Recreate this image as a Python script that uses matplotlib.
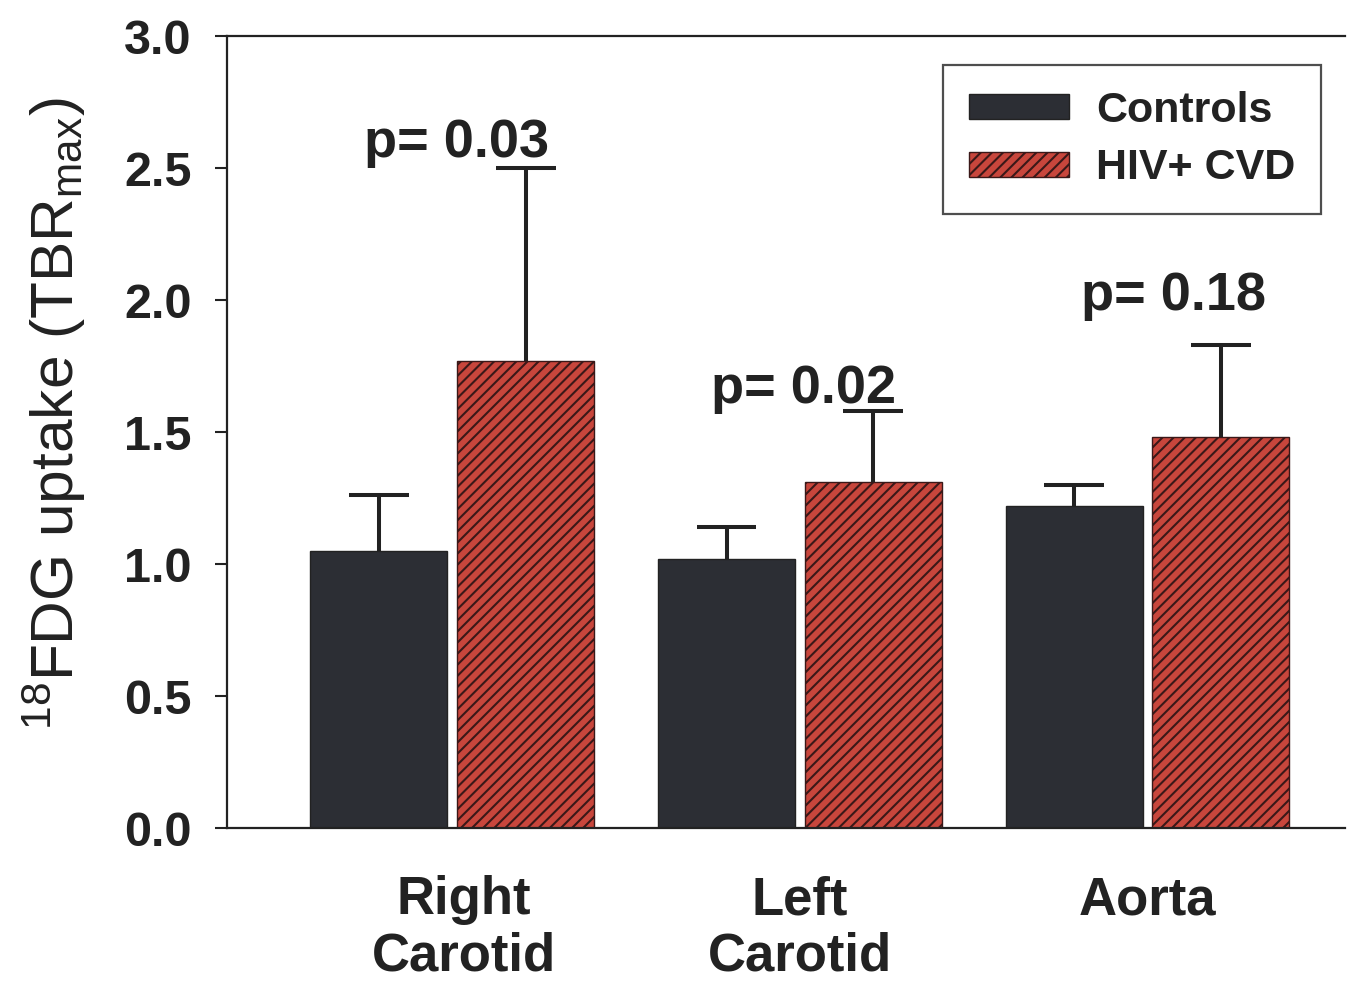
import matplotlib
matplotlib.use("Agg")
import matplotlib.pyplot as plt
import numpy as np

categories = ["Right\nCarotid", "Left\nCarotid", "Aorta"]
controls = [1.05, 1.02, 1.22]
controls_err = [0.21, 0.12, 0.08]
hiv = [1.77, 1.31, 1.48]
hiv_err = [0.73, 0.27, 0.35]
pvals = ["p= 0.03", "p= 0.02", "p= 0.18"]
p_x = [0.013, 1.01, 2.076]
p_y = [2.54, 1.61, 1.962]
yticks = [0.0, 0.5, 1.0, 1.5, 2.0, 2.5, 3.0]

plt.rcParams['font.family'] = ['Liberation Sans', 'DejaVu Sans']
plt.rcParams['mathtext.fontset'] = 'custom'
plt.rcParams['mathtext.rm'] = 'Liberation Sans'
plt.rcParams['mathtext.it'] = 'Liberation Sans'
plt.rcParams['hatch.color'] = '#3a1818'
plt.rcParams['hatch.linewidth'] = 1.5

fig = plt.figure(figsize=(13.55, 9.82), dpi=100)
ax = fig.add_axes([227 / 1355, 1 - 828 / 982, (1345 - 227) / 1355, (828 - 36) / 982])

x = np.arange(len(categories))
label_x = x + np.array([0.033, 0.0, 0.0])
w = 0.394
off = 0.211
c_ctrl = '#2c2e34'
c_hiv = '#c8463c'
ink = '#222222'

ax.bar(x - off, controls, w, color=c_ctrl, edgecolor='#222', linewidth=1, zorder=2, label='Controls')
ax.bar(x + off, hiv, w, color=c_hiv, edgecolor='#3a1818', linewidth=1, hatch='///', zorder=2, label='HIV+ CVD')

cap = 0.086
lw = 2.9
for xs, vals, errs in [(x - off, controls, controls_err), (x + off, hiv, hiv_err)]:
    vals = np.array(vals); errs = np.array(errs)
    ax.vlines(xs, vals, vals + errs, color=ink, linewidth=lw, zorder=3)
    ax.hlines(vals + errs, xs - cap, xs + cap, color=ink, linewidth=lw, zorder=3)

for px, py, t in zip(p_x, p_y, pvals):
    ax.text(px, py, t, ha='center', va='baseline', fontsize=39, fontweight='bold', color=ink)

ax.set_xlim(-0.648, 2.568)
ax.set_ylim(0, 3.0)
ax.set_yticks(yticks)
ax.set_yticklabels([f"{t:.1f}" for t in yticks], fontsize=35, fontweight='bold', color=ink)
ax.set_xticks(label_x)
ax.set_xticklabels(categories, fontsize=38, fontweight='bold', color=ink, linespacing=1.17)
ax.tick_params(axis='x', length=0, pad=34)
ax.tick_params(axis='y', direction='out', length=8.6, width=1.5, pad=17, color=ink)

for s in ['left', 'top', 'bottom']:
    ax.spines[s].set_linewidth(1.6)
    ax.spines[s].set_color(ink)
ax.spines['right'].set_visible(False)

ax.set_ylabel(r'$^{18}$FDG uptake (TBR$_{\mathrm{max}}$)', fontsize=43.5, color=ink)
ax.yaxis.set_label_coords(-0.124, 0.523)

leg = ax.legend(loc='upper right', bbox_to_anchor=(0.9786, 0.9634), borderaxespad=0,
                prop={'size': 31, 'weight': 'bold'}, frameon=True,
                fancybox=False, edgecolor=ink, handlelength=2.33, handleheight=0.53,
                borderpad=0.6, labelspacing=0.41, handletextpad=0.63)
leg.get_frame().set_linewidth(1.6)
for t in leg.get_texts():
    t.set_color(ink)

fig.savefig('out.png', dpi=100)
